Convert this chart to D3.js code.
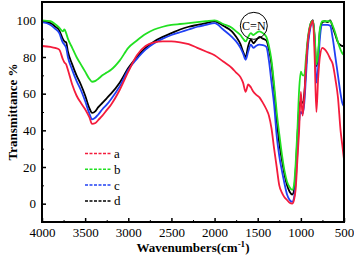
<!DOCTYPE html>
<html>
<head>
<meta charset="utf-8">
<script src="https://cdn.jsdelivr.net/npm/d3@7"></script>
<style>
    body { margin: 0; background: #fff; }
    text { font-family: "Liberation Serif", "Times New Roman", serif; }
</style>
</head>
<body>
<div id="chart"></div>
<script>
// wavenumbers (cm-1) shared by every spectrum
const wavenumbers = [4000, 3900, 3850, 3800, 3760, 3740, 3720, 3700, 3650, 3600, 3550, 3500, 3450, 3420, 3380, 3350, 3300, 3250, 3200, 3100,
    3000, 2900, 2800, 2700, 2600, 2500, 2400, 2300, 2200, 2100, 2000, 1900, 1800, 1750, 1700, 1670, 1640, 1610, 1580, 1550,
    1520, 1480, 1440, 1400, 1370, 1340, 1310, 1280, 1250, 1220, 1190, 1160, 1130, 1100, 1080, 1060, 1040, 1020, 1000, 980,
    960, 940, 920, 900, 880, 860, 840, 820, 800, 780, 750, 720, 690, 660, 630, 600, 570, 540, 520, 500];

const seriesA = [86, 85.5, 85, 84, 79, 77, 76, 73, 65, 59, 55, 51.5, 47, 43.5, 44, 45.5, 48, 51, 54, 62,
    72, 81, 86, 88, 88.5, 88.5, 88, 87, 85, 83, 81, 77.5, 74, 71.5, 69, 66, 61, 65, 63.5, 61,
    59.5, 58, 55, 51.5, 48, 41, 30, 20, 10, 6, 3.5, 2, 0.5, 0, 2, 8, 24, 40, 61, 48,
    58, 75, 88, 95, 98, 100, 80, 50, 68, 80, 85, 84, 82, 79, 76, 68, 58, 40, 32, 24];

const seriesB = [100, 99.5, 98, 96, 94, 95, 93, 90, 85, 80, 76, 72, 68, 66.5, 67, 68, 70, 71.5, 73, 78,
    85, 89, 92.5, 95, 96.5, 97.5, 98, 98.5, 99, 99.5, 100, 98, 96, 94, 92, 90, 88.5, 91, 93, 92,
    93, 94, 93, 91, 86, 78, 65, 50, 38, 27, 18, 12, 9, 7.5, 10, 22, 40, 62, 72, 70,
    70, 80, 90, 96, 99, 100, 92, 76, 82, 95, 99.5, 99.5, 99.5, 99.5, 97, 93, 88, 84, 82, 81];

const seriesC = [99, 97.5, 95.5, 93, 88, 86.7, 85, 80, 73, 67, 62, 56, 49, 46, 47, 48.5, 51.5, 54, 57, 64,
    73, 79, 84, 87.5, 90, 92, 93.5, 95, 96.5, 97.5, 98.5, 95, 91, 88.5, 85, 82, 78.5, 83, 86.7, 85,
    86, 86.7, 86.5, 85.5, 78, 66, 54, 37, 26, 18, 11, 5, 2, 1, 3, 12, 28, 45, 50, 49,
    55, 70, 85, 93, 98, 100, 88, 66, 74, 90, 97.5, 97.5, 97.5, 97, 90, 80, 70, 60, 55, 53];

const seriesD = [99.5, 98.5, 96.7, 94.5, 90, 88.5, 88, 83, 76, 70, 65, 59, 52, 49.5, 50.5, 52.5, 55, 57.5, 60, 66,
    74, 80, 85, 88.5, 91, 93, 95, 96.5, 97.5, 98.5, 99.5, 97, 94, 91, 87, 83, 80, 86, 89.5, 87.5,
    89, 91, 90, 89, 84, 76, 62, 46, 33, 24, 16, 10, 6.5, 5, 7, 18, 36, 52, 56, 55,
    60, 75, 88, 95, 99, 100, 90, 75, 80, 94, 99, 99.5, 99, 100, 96, 92, 88, 86.5, 86, 86];

const seriesNames = ["a", "b", "c", "d"];
const seriesColors = ["#f41c3c", "#22e022", "#2040f4", "#000000"];

const xTicks = [4000, 3500, 3000, 2500, 2000, 1500, 1000, 500];
const xMinorTicks = [3750, 3250, 2750, 2250, 1750, 1250, 750];
const yTicks = [0, 20, 40, 60, 80, 100];
const yMinorTicks = [10, 30, 50, 70, 90];

const width = 354, height = 269;
const margin = { top: 2, right: 10, bottom: 47, left: 42 };
const serif = '"Liberation Serif", "Times New Roman", serif';

const svg = d3.select("#chart")
    .append("svg")
    .attr("width", width)
    .attr("height", height);

const x = d3.scaleLinear()
    .domain([4000, 500])
    .range([margin.left, width - margin.right]);

const y = d3.scaleLinear()
    .domain([-10, 110])
    .range([height - margin.bottom, margin.top]);

// minor ticks (inward, no labels)
svg.append("g")
    .attr("transform", `translate(0,${height - margin.bottom})`)
    .call(d3.axisBottom(x).tickValues(xMinorTicks).tickSize(-2).tickFormat(""))
    .call(g => g.select(".domain").remove());
svg.append("g")
    .attr("transform", `translate(${margin.left},0)`)
    .call(d3.axisLeft(y).tickValues(yMinorTicks).tickSize(-2).tickFormat(""))
    .call(g => g.select(".domain").remove());

// major ticks
svg.append("g")
    .attr("transform", `translate(0,${height - margin.bottom})`)
    .call(d3.axisBottom(x).tickValues(xTicks).tickSize(-4).tickPadding(6).tickFormat(d3.format("d")))
    .call(g => g.select(".domain").remove())
    .call(g => g.selectAll("text").style("font-size", "13px").style("font-family", serif).attr("fill", "#000"))
    .call(g => g.selectAll("line").attr("stroke-width", 1.5));

svg.append("g")
    .attr("transform", `translate(${margin.left},0)`)
    .call(d3.axisLeft(y).tickValues(yTicks).tickSize(-4).tickPadding(6).tickFormat(d3.format("d")))
    .call(g => g.select(".domain").remove())
    .call(g => g.selectAll("text").style("font-size", "13px").style("font-family", serif).attr("fill", "#000"))
    .call(g => g.selectAll("line").attr("stroke-width", 1.5));

// spectra
const line = d3.line()
    .x((d, i) => x(wavenumbers[i]))
    .y(d => y(d))
    .curve(d3.curveMonotoneX);

const allSeries = [seriesA, seriesB, seriesC, seriesD];
[3, 2, 1, 0].forEach(i => {
    svg.append("path")
        .datum(allSeries[i])
        .attr("d", line)
        .attr("fill", "none")
        .attr("stroke", seriesColors[i])
        .attr("stroke-width", 1.8)
        .attr("stroke-linejoin", "round");
});

// frame
svg.append("rect")
    .attr("x", margin.left)
    .attr("y", margin.top)
    .attr("width", width - margin.left - margin.right)
    .attr("height", height - margin.top - margin.bottom)
    .attr("fill", "none")
    .attr("stroke", "#000")
    .attr("stroke-width", 2);

// legend
const legend = svg.selectAll(".legend")
    .data(seriesNames)
    .join("g")
    .attr("class", "legend")
    .attr("transform", (d, i) => `translate(85,${153.5 + i * 15.8})`);

legend.append("line")
    .attr("x1", 0)
    .attr("x2", 26)
    .attr("stroke", d => seriesColors[seriesNames.indexOf(d)])
    .attr("stroke-width", 1.5)
    .attr("stroke-dasharray", "3,1.5");

legend.append("text")
    .attr("x", 29)
    .attr("dy", "0.35em")
    .style("font-size", "13px")
    .text(d => d);

// C=N annotation
svg.append("circle")
    .attr("cx", x(1545))
    .attr("cy", y(97))
    .attr("r", 13.5)
    .attr("fill", "none")
    .attr("stroke", "#000")
    .attr("stroke-width", 1);

svg.append("text")
    .attr("x", x(1545))
    .attr("y", y(97))
    .attr("dy", "0.35em")
    .attr("text-anchor", "middle")
    .style("font-size", "12px")
    .text("C=N");

// axis titles
const xTitle = svg.append("text")
    .attr("x", (margin.left + width - margin.right) / 2)
    .attr("y", 252)
    .attr("text-anchor", "middle")
    .style("font-size", "13px")
    .style("font-weight", "bold");
xTitle.append("tspan").text("Wavenumbers(cm");
xTitle.append("tspan").attr("dy", -5).style("font-size", "9px").text("-1");
xTitle.append("tspan").attr("dy", 5).text(")");

svg.append("text")
    .attr("transform", `translate(17,${(margin.top + height - margin.bottom) / 2}) rotate(-90)`)
    .attr("text-anchor", "middle")
    .style("font-size", "13px")
    .style("font-weight", "bold")
    .text("Transmittance %");
</script>
</body>
</html>
